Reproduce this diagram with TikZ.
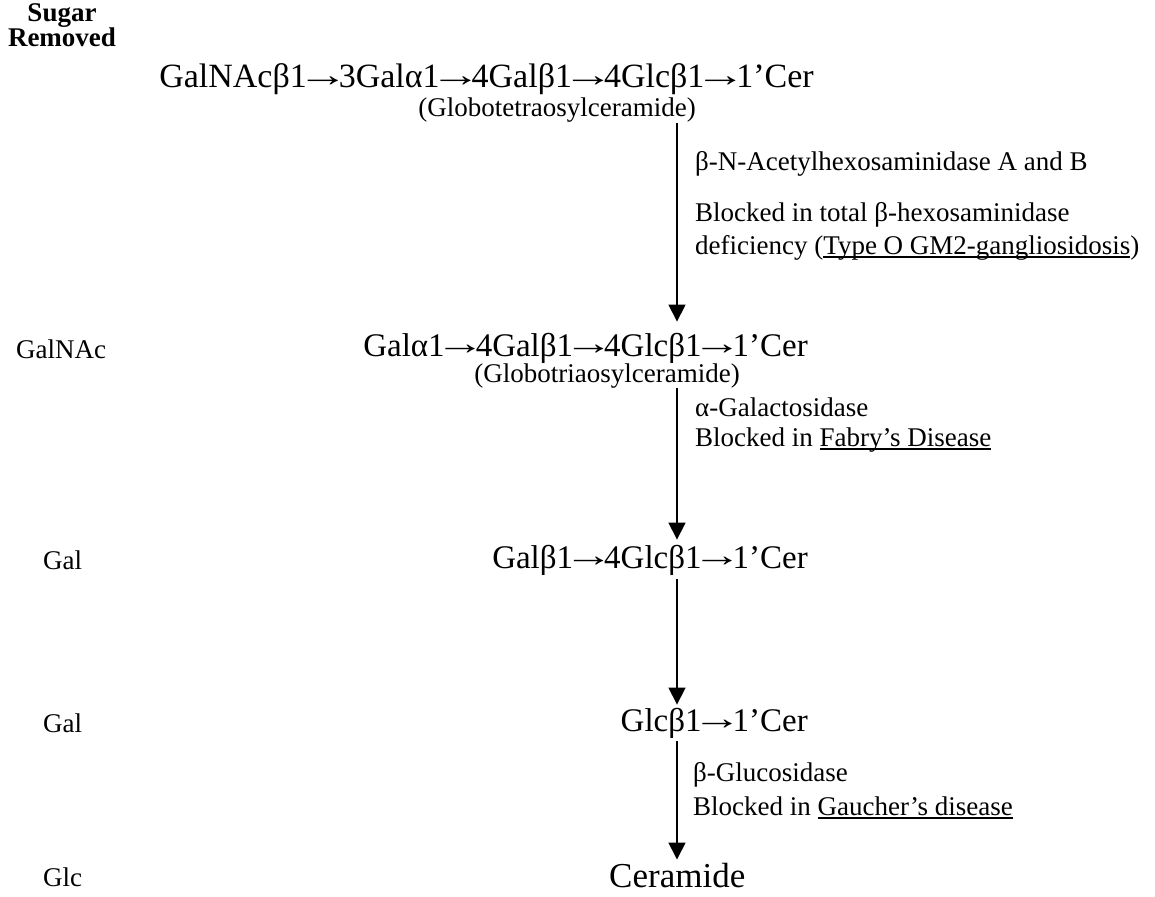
\documentclass[tikz,border=0pt]{standalone}
\usepackage{fontspec}
\usepackage{graphicx}
\setmainfont{Liberation Serif}
\usetikzlibrary{arrows.meta}

% glycosidic bond arrow, drawn long like in the original
\newcommand\bond{\makebox[0.94em]{\raisebox{0.04em}{\scalebox{1.5}[1]{→}}}}
% underline that runs just below the baseline
\newcommand\dline[1]{\setbox0\hbox{#1}\rlap{\rule[-0.13em]{\wd0}{0.055em}}\box0}

\tikzset{
  chainname/.style={anchor=base east, inner sep=0pt, font=\fontsize{33}{38}\selectfont},
  subname/.style={anchor=base, inner sep=0pt, font=\fontsize{27}{31}\selectfont},
  enzyme/.style={anchor=base west, inner sep=0pt, font=\fontsize{27}{31}\selectfont},
  sugar/.style={anchor=base west, inner sep=0pt, font=\fontsize{27}{31}\selectfont},
  react/.style={line width=1.6pt, -{Triangle[width=17pt,length=17pt]}}
}

\begin{document}
\begin{tikzpicture}[x=1pt,y=-1pt]
\useasboundingbox (0,0) rectangle (1155,896);
\coordinate (ax) at (677,0);

\node[anchor=base, inner sep=0pt, font=\fontsize{27}{31}\selectfont\bfseries] (hd1) at (62,22) {Sugar};
\node[anchor=base, inner sep=0pt, font=\fontsize{27}{31}\selectfont\bfseries] (hd2) at (62,47) {Removed};

\node[chainname, font=\fontsize{34}{39}\selectfont] (gb4) at (814,88) {GalNAcβ1\bond3Galα1\bond4Galβ1\bond4Glcβ1\bond1’Cer};
\node[subname] (gb4n) at (557,117) {(Globotetraosylceramide)};
\node[enzyme] (hexa) at (695,171) {β-N-Acetylhexosaminidase A and B};
\node[enzyme] (hexb) at (695,221) {Blocked in total β-hexosaminidase};
\node[enzyme] (hexc) at (695,254) {deficiency (\dline{Type O GM2-gangliosidosis})};

\node[sugar] (rm1) at (16,358) {GalNAc};
\node[chainname] (gb3) at (808,356) {Galα1\bond4Galβ1\bond4Glcβ1\bond1’Cer};
\node[subname] (gb3n) at (607,382) {(Globotriaosylceramide)};
\node[enzyme] (gala) at (695,416) {α-Galactosidase};
\node[enzyme] (galb) at (695,446) {Blocked in \dline{Fabry’s Disease}};

\node[sugar] (rm2) at (43,569) {Gal};
\node[chainname] (lac) at (808,568) {Galβ1\bond4Glcβ1\bond1’Cer};

\node[sugar] (rm3) at (43,732) {Gal};
\node[chainname] (glc) at (808,731) {Glcβ1\bond1’Cer};
\node[enzyme] (gcea) at (693,781) {β-Glucosidase};
\node[enzyme] (gceb) at (693,815) {Blocked in \dline{Gaucher’s disease}};

\node[sugar] (rm4) at (43,886) {Glc};
\node[anchor=base west, inner sep=0pt, font=\fontsize{35}{40}\selectfont] (cer) at (609,887) {Ceramide};

% hydrolysis steps
\draw[react, shorten <=0pt, shorten >=11pt] (gb4n.south -| ax) -- (gb3.north -| ax);
\draw[react, shorten <=0pt, shorten >=5pt] (gb3n.south -| ax) -- (lac.north -| ax);
\draw[react, shorten <=4pt, shorten >=3pt] (lac.south -| ax) -- (glc.north -| ax);
\draw[react, shorten <=3pt, shorten >=3pt] (glc.south -| ax) -- (cer.north -| ax);
\end{tikzpicture}
\end{document}
